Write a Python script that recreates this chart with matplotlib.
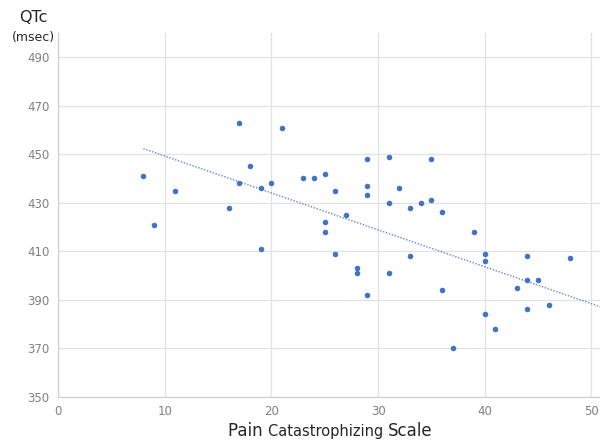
import numpy as np
import matplotlib
matplotlib.use("Agg")
import matplotlib.pyplot as plt

# Pain Catastrophizing Scale score vs. corrected QT interval
pcs = [8, 9, 11, 16, 17, 17, 18, 19, 19, 20, 21, 23, 24, 25, 26, 25, 25, 27,
       26, 28, 28, 29, 29, 29, 29, 31, 31, 31, 32, 33, 33, 34, 35, 35, 36, 36,
       37, 39, 40, 40, 40, 41, 43, 44, 44, 44, 45, 46, 48]
qtc = [441, 421, 435, 428, 463, 438, 445, 436, 411, 438, 461, 440, 440, 442,
       435, 422, 418, 425, 409, 403, 401, 448, 437, 433, 392, 449, 430, 401,
       436, 428, 408, 430, 448, 431, 426, 394, 370, 418, 409, 406, 384, 378,
       395, 408, 398, 386, 398, 388, 407]

# linear trend line (intercept, slope) and the PCS range it spans
trend_intercept = 464.5
trend_slope = -1.523
trend_x = [8, 51]

x_ticks = [0, 10, 20, 30, 40, 50]
y_ticks = [350, 370, 390, 410, 430, 450, 470, 490]

fig = plt.figure(figsize=(6.0, 4.41), dpi=100)
ax = fig.add_axes([58 / 600, 1 - 396.7 / 441, 1 - 58 / 600, (396.7 - 33) / 441])

grid_c = "#e2e2e2"
ax.set_xlim(0, 50.8)
ax.set_ylim(350, 500)
ax.set_xticks(x_ticks)
ax.set_yticks(y_ticks)
ax.grid(True, color=grid_c, linewidth=0.9)
ax.set_axisbelow(True)
for side in ("top", "right"):
    ax.spines[side].set_visible(False)
for side in ("left", "bottom"):
    ax.spines[side].set_color("#d0d0d0")
    ax.spines[side].set_linewidth(0.9)
ax.tick_params(length=0, labelsize=8.5, labelcolor="#808080", pad=6)

ax.scatter(pcs, qtc, s=16, color="#4472C4", zorder=3, linewidths=0)

xs = np.array(trend_x, dtype=float)
ax.plot(xs, trend_intercept + trend_slope * xs, linestyle=(0, (1, 1.2)),
        color="#4472C4", linewidth=1.0, alpha=0.85, zorder=2)

fig.text(33 / 600, 1 - 18 / 441, "QTc", ha="center", va="center", fontsize=11.5,
         color="#262626")
fig.text(33 / 600, 1 - 37 / 441, "(msec)", ha="center", va="center", fontsize=9,
         color="#262626")

# x axis title with mixed sizes
fig.canvas.draw()
r = fig.canvas.get_renderer()
parts = [("Pain ", 12), ("Catastrophizing ", 10.5), ("Scale", 12)]
texts = []
widths = []
for s, fs in parts:
    t = fig.text(0, 0, s, ha="left", va="baseline", fontsize=fs,
                 color="#262626")
    texts.append(t)
    widths.append(t.get_window_extent(r).width)
total = sum(widths)
x0 = 330 - total / 2
for t, w in zip(texts, widths):
    t.set_x(x0 / 600)
    t.set_y(1 - 436 / 441)
    x0 += w

fig.savefig("out.png", dpi=100)
